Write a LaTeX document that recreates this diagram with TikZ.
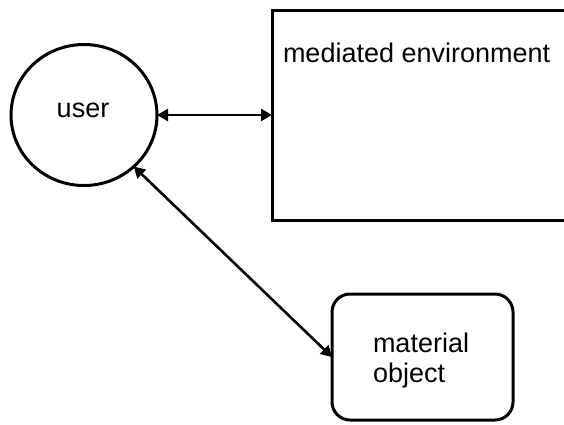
\documentclass[tikz,border=0pt]{standalone}
\usepackage{fontspec}
\setmainfont{Liberation Sans}
\usetikzlibrary{arrows.meta,shapes.geometric}
\begin{document}
\begin{tikzpicture}[x=1pt,y=-1pt,
  shapeline/.style={draw=black,line width=3pt,inner sep=0pt,outer sep=0pt},
  lbl/.style={inner sep=0pt,outer sep=0pt,font=\fontsize{27}{30}\selectfont},
  link/.style={line width=2.6pt,{Triangle[length=11pt,width=12pt]}-{Triangle[length=11pt,width=12pt]}}]
\useasboundingbox[fill=white] (0,0) rectangle (564,424);
% the user
\node[shapeline,ellipse,minimum width=146pt,minimum height=141pt] (user) at (84,115) {};
\node[lbl,anchor=base] (usertext) at (83,117) {user};
% the mediated environment, running off the right side
\node[shapeline,rectangle,anchor=north west,minimum width=320pt,minimum height=210pt] (env) at (272,10) {};
\node[lbl,anchor=base west] (envtext) at (283,62) {mediated environment};
% the material object
\node[shapeline,rectangle,rounded corners=18pt,anchor=north west,minimum width=181pt,minimum height=126pt] (obj) at (332,294) {};
\node[lbl,anchor=base west] (objtext1) at (373,352) {material};
\node[lbl,anchor=base west] (objtext2) at (373,382) {object};
% connectors
\draw[link] (user.east) -- (user.east -| env.west);
\draw[link] (user.-46) -- (obj.west);
\end{tikzpicture}
\end{document}
